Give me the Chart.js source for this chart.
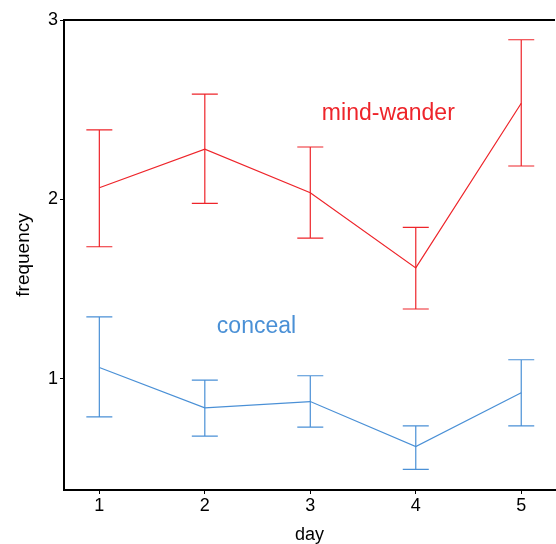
<!DOCTYPE html>
<html>
<head>
<meta charset="utf-8">
<script src="https://cdn.jsdelivr.net/npm/chart.js@4"></script>
<style>
  html, body { margin: 0; padding: 0; background: #fff; }
  #wrap { width: 556px; height: 544px; }
</style>
</head>
<body>
<div id="wrap"><canvas id="chart" width="556" height="544"></canvas></div>
<script>
const days = [1, 2, 3, 4, 5];
const yTicks = [1, 2, 3];

const mindWander = [2.065, 2.28, 2.037, 1.618, 2.536];
const mindWanderHi = [2.387, 2.587, 2.292, 1.844, 2.89];
const mindWanderLo = [1.736, 1.978, 1.784, 1.389, 2.186];

const conceal = [1.063, 0.838, 0.873, 0.622, 0.922];
const concealHi = [1.345, 0.993, 1.017, 0.737, 1.106];
const concealLo = [0.788, 0.68, 0.73, 0.495, 0.737];

const RED = 'rgb(238, 36, 42)';
const BLUE = 'rgb(74, 144, 214)';
const FONT = '"Liberation Sans", Arial, sans-serif';

// error bars + series labels drawn from the scales
const errorBars = {
  id: 'errorBars',
  afterDatasetsDraw(chart) {
    const { ctx, scales: { x, y } } = chart;
    const sets = [
      { lo: mindWanderLo, hi: mindWanderHi, color: RED },
      { lo: concealLo, hi: concealHi, color: BLUE }
    ];
    ctx.save();
    ctx.lineWidth = 1.2;
    sets.forEach(s => {
      ctx.strokeStyle = s.color;
      days.forEach((d, i) => {
        const px = x.getPixelForValue(d);
        const top = y.getPixelForValue(s.hi[i]);
        const bot = y.getPixelForValue(s.lo[i]);
        ctx.beginPath();
        ctx.moveTo(px, top); ctx.lineTo(px, bot);
        ctx.moveTo(px - 13, top); ctx.lineTo(px + 13, top);
        ctx.moveTo(px - 13, bot); ctx.lineTo(px + 13, bot);
        ctx.stroke();
      });
    });
    ctx.font = '23px ' + FONT;
    ctx.textAlign = 'center';
    ctx.textBaseline = 'middle';
    ctx.fillStyle = RED;
    ctx.fillText('mind-wander', x.getPixelForValue(3.74), y.getPixelForValue(2.48));
    ctx.fillStyle = BLUE;
    ctx.fillText('conceal', x.getPixelForValue(2.49), y.getPixelForValue(1.29));
    // top border of the frame
    const area = chart.chartArea;
    ctx.strokeStyle = '#000';
    ctx.lineWidth = 2;
    ctx.beginPath();
    ctx.moveTo(area.left, area.top);
    ctx.lineTo(area.right, area.top);
    ctx.stroke();
    ctx.restore();
  }
};

new Chart(document.getElementById('chart'), {
  type: 'line',
  data: {
    datasets: [
      {
        label: 'mind-wander',
        data: days.map((d, i) => ({ x: d, y: mindWander[i] })),
        borderColor: RED,
        borderWidth: 1.2,
        pointRadius: 0,
        tension: 0
      },
      {
        label: 'conceal',
        data: days.map((d, i) => ({ x: d, y: conceal[i] })),
        borderColor: BLUE,
        borderWidth: 1.2,
        pointRadius: 0,
        tension: 0
      }
    ]
  },
  options: {
    responsive: false,
    animation: false,
    layout: { padding: { top: 20, right: 1, left: 0, bottom: 0 } },
    plugins: { legend: { display: false }, tooltip: { enabled: false } },
    scales: {
      x: {
        type: 'linear',
        min: 0.665,
        max: 5.32,
        afterBuildTicks: s => { s.ticks = days.map(v => ({ value: v })); },
        afterFit: s => { s.height = 54; },
        grid: { drawOnChartArea: false, drawTicks: true, tickLength: 4, color: '#000' },
        border: { display: true, color: '#000', width: 2 },
        ticks: { color: '#000', padding: 1, font: { size: 18, family: FONT } },
        title: { display: true, text: 'day', color: '#000', padding: { top: 0, bottom: 0 }, font: { size: 18, family: FONT, lineHeight: 1 } }
      },
      y: {
        type: 'linear',
        min: 0.38,
        max: 3,
        afterBuildTicks: s => { s.ticks = yTicks.map(v => ({ value: v })); },
        afterFit: s => { s.width = 64; },
        grid: { drawOnChartArea: false, drawTicks: true, tickLength: 4, color: '#000' },
        border: { display: true, color: '#000', width: 2 },
        ticks: { color: '#000', padding: 2, font: { size: 18, family: FONT } },
        title: { display: true, text: 'frequency', color: '#000', padding: { top: 14, bottom: 0 }, font: { size: 19, family: FONT, lineHeight: 1 } }
      }
    }
  },
  plugins: [errorBars]
});
</script>
</body>
</html>
